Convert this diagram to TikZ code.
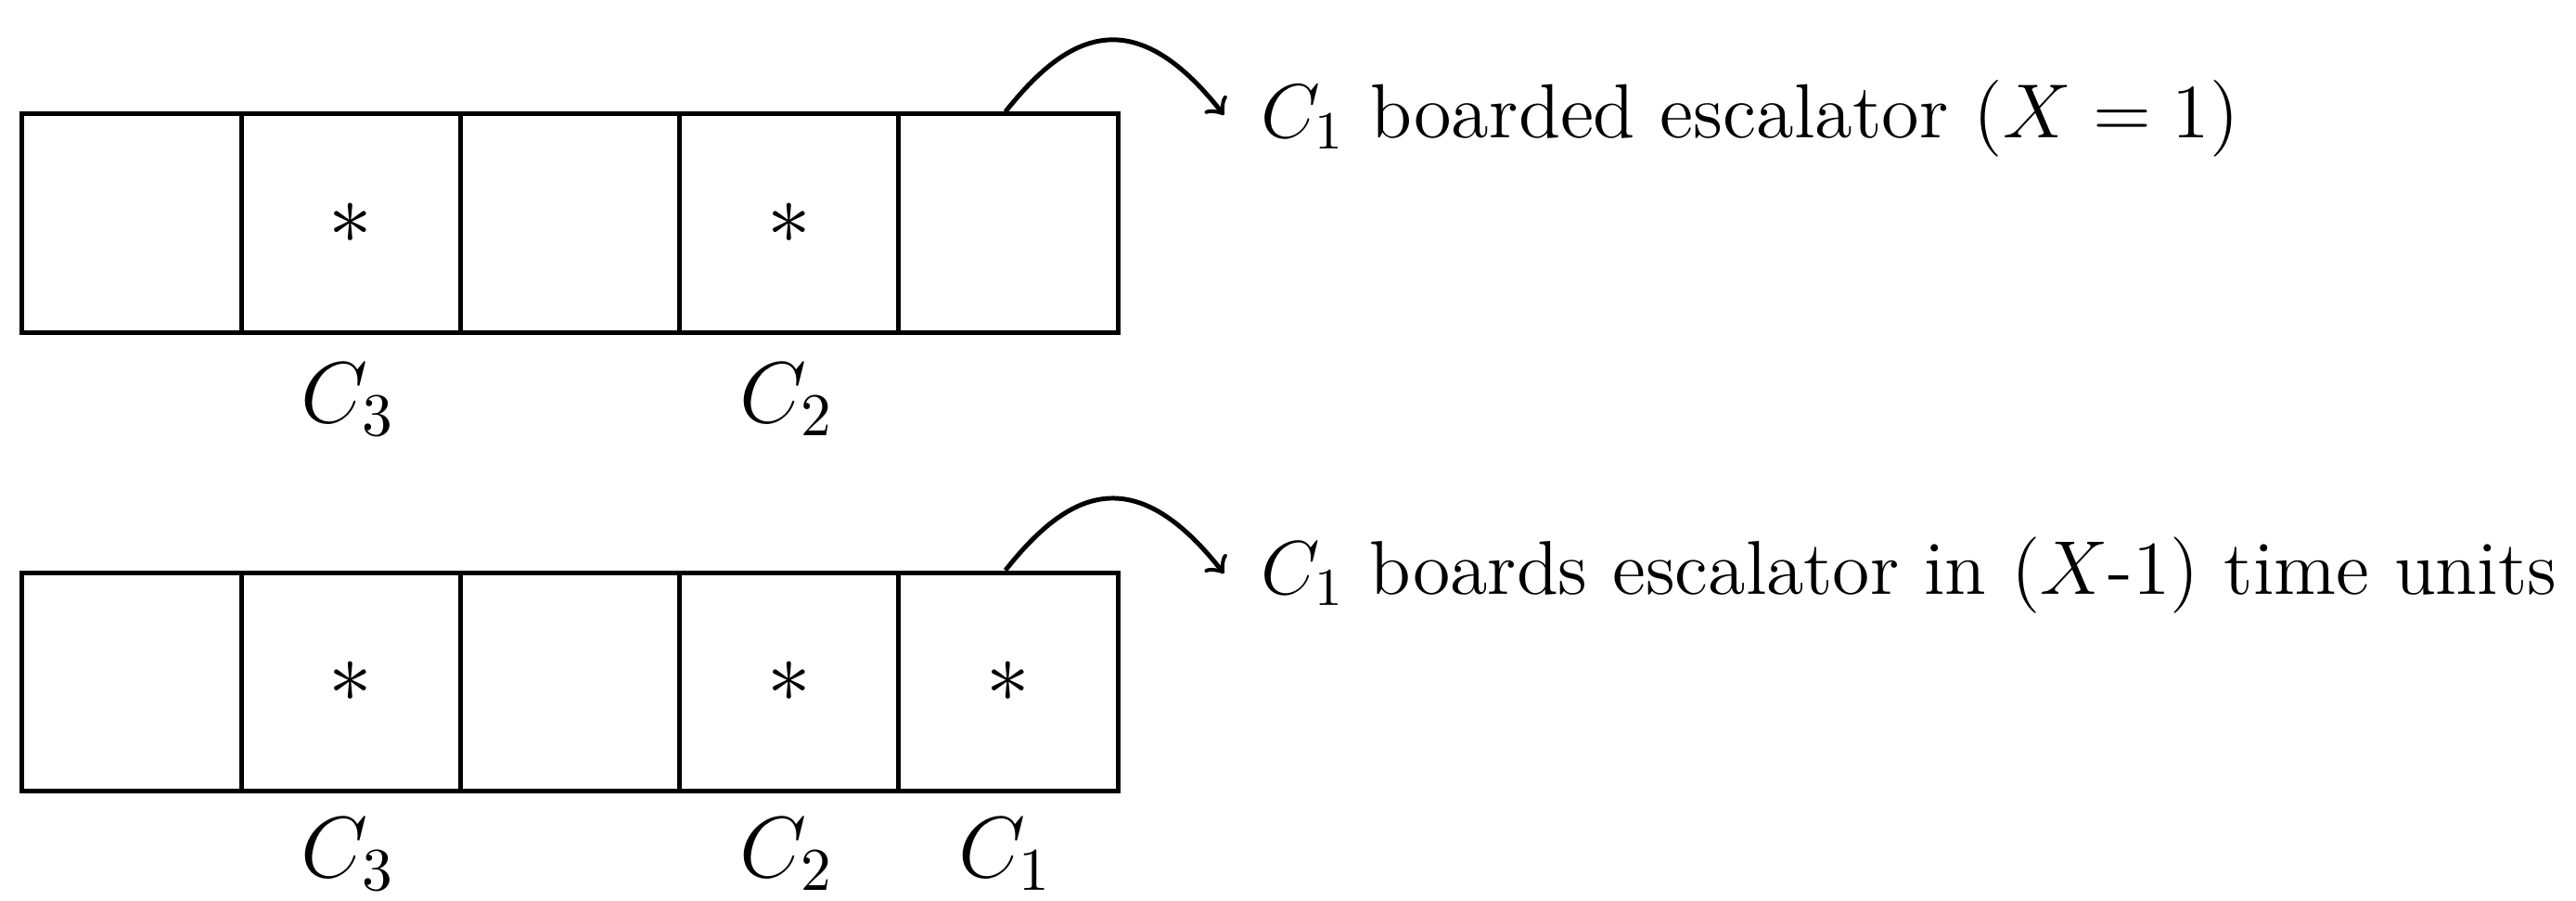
\documentclass[tikz,border=0pt]{standalone}
\usepackage{fix-cm}
\usepackage{graphicx}
\begin{document}
\begin{tikzpicture}[x=0.01cm,y=-0.01cm,
  cell/.style={draw,line width=0.8pt,minimum width=1.334cm,minimum height=1.33cm,anchor=north west,inner sep=0pt,font=\fontsize{15}{18}\selectfont},
  lbl/.style={font=\fontsize{15}{18}\selectfont,inner sep=0pt},
  txt/.style={font=\fontsize{14.1}{17}\selectfont,anchor=west,inner sep=0pt}]
\useasboundingbox (0,0) rectangle (1568,548);
% top row
\node[cell] (a1) at (12,68) {};
\node[cell] (a2) at (145.4,68) {$*$};
\node[cell] (a3) at (278.8,68) {};
\node[cell] (a4) at (412.2,68) {$*$};
\node[cell] (a5) at (545.6,68) {};
\node[lbl] (la2) at (212,243) {$C_3$};
\node[lbl] (la4) at (479,243) {$C_2$};
\coordinate (sa) at (612,68);
\node[txt] (ta) at (767,72) {\resizebox{5.95cm}{!}{$C_1$ boarded escalator ($X=1$)}};
\draw[line width=0.8pt,->] (sa) .. controls (650,20) and (690,0) .. (745,70);
% bottom row
\node[cell] (b1) at (12,347) {};
\node[cell] (b2) at (145.4,347) {$*$};
\node[cell] (b3) at (278.8,347) {};
\node[cell] (b4) at (412.2,347) {$*$};
\node[cell] (b5) at (545.6,347) {$*$};
\node[lbl] (lb2) at (212,520) {$C_3$};
\node[lbl] (lb4) at (479,520) {$C_2$};
\node[lbl] (lb5) at (612,520) {$C_1$};
\coordinate (sb) at (612,347);
\node[txt] (tb) at (767,350) {\resizebox{7.88cm}{!}{$C_1$ boards escalator in ($X$-1) time units}};
\draw[line width=0.8pt,->] (sb) .. controls (650,299) and (690,279) .. (745,349);
\end{tikzpicture}
\end{document}
